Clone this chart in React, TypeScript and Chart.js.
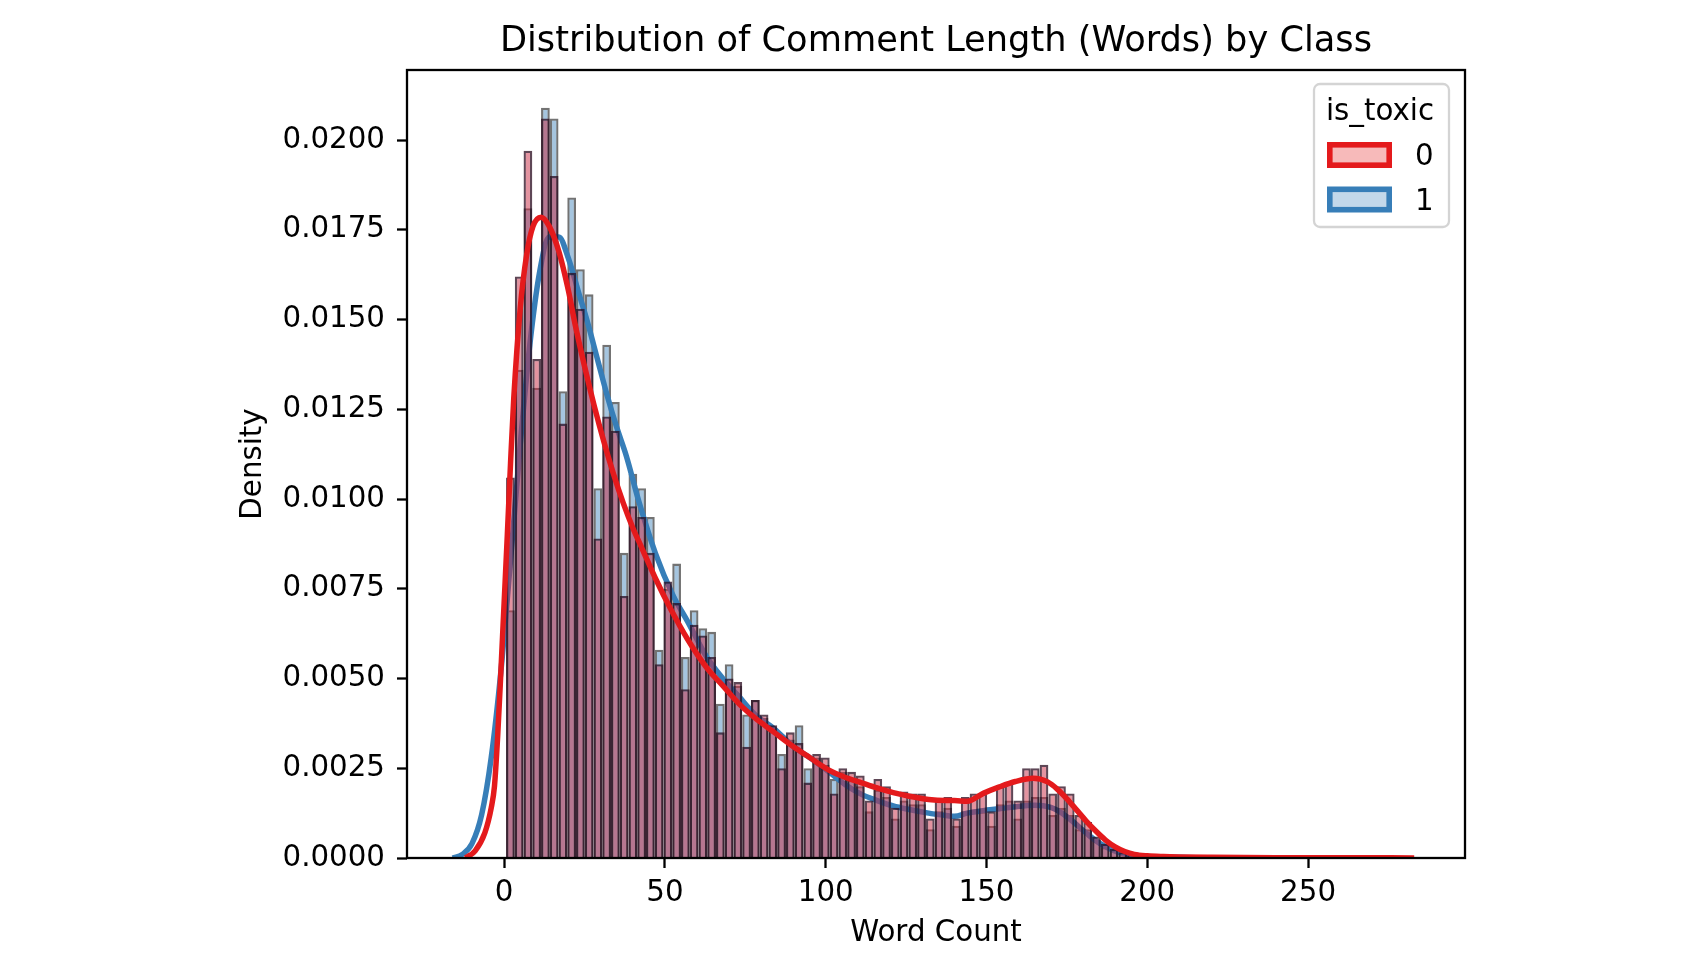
import React, { useEffect, useRef } from "react";
import { Chart, registerables } from "chart.js";

Chart.register(...registerables);

// ---------- text ----------
const chartTitle = "Distribution of Comment Length (Words) by Class";
const xAxisLabel = "Word Count";
const yAxisLabel = "Density";
const legendTitle = "is_toxic";
const classLabels = ["0", "1"];

// ---------- ticks ----------
const xTickValues = [0, 50, 100, 150, 200, 250];
const yTickValues = [0, 0.0025, 0.005, 0.0075, 0.01, 0.0125, 0.015, 0.0175, 0.02];

// ---------- histogram (bin centres, word count) ----------
const binCenters = [
  1.96, 4.68, 7.4, 10.12, 12.84, 15.56, 18.28, 21.0, 23.72, 26.44,
  29.16, 31.88, 34.6, 37.32, 40.04, 42.76, 45.48, 48.2, 50.92, 53.64,
  56.36, 59.08, 61.8, 64.52, 67.24, 69.96, 72.68, 75.4, 78.12, 80.84,
  83.56, 86.28, 89.0, 91.72, 94.44, 97.16, 99.88, 102.6, 105.32, 108.04,
  110.76, 113.48, 116.2, 118.92, 121.64, 124.36, 127.08, 129.8, 132.52, 135.24,
  137.96, 140.68, 143.4, 146.12, 148.84, 151.56, 154.28, 157.0, 159.72, 162.44,
  165.16, 167.88, 170.6, 173.32, 176.04, 178.76, 181.48, 184.2, 186.92, 189.64,
  192.36, 195.08, 197.8, 200.52, 203.24,
];

// class 0 (non-toxic) density per bin
const densityClass0 = [
  0.0106, 0.0162, 0.0197, 0.0139, 0.0206, 0.019, 0.0121, 0.0163, 0.0153, 0.0141,
  0.0089, 0.0123, 0.0119, 0.0073, 0.0098, 0.0095, 0.0085, 0.0054, 0.0077, 0.0071,
  0.0047, 0.0065, 0.0062, 0.0056, 0.0035, 0.005, 0.0049, 0.0031, 0.0044, 0.004,
  0.0037, 0.0025, 0.0035, 0.0032, 0.0021, 0.0029, 0.0028, 0.0018, 0.0025, 0.0024,
  0.0023, 0.0016, 0.0022, 0.002, 0.0014, 0.00185, 0.0018, 0.0018, 0.0011, 0.0016,
  0.0017, 0.0011, 0.0017, 0.0018, 0.0018, 0.0013, 0.002, 0.0021, 0.0016, 0.0025,
  0.0025, 0.0026, 0.0018, 0.002, 0.0018, 0.0012, 0.001, 0.0006, 0.0004, 0.00025,
  0.00016, 0.00008, 0.00005, 0.00003, 0.00002,
];

// class 1 (toxic) density per bin
const densityClass1 = [
  0.0069, 0.0136, 0.0181, 0.0131, 0.0209, 0.0206, 0.013, 0.0184, 0.0164, 0.0157,
  0.0103, 0.0143, 0.0127, 0.0085, 0.0107, 0.0103, 0.0095, 0.0058, 0.0075, 0.0082,
  0.0056, 0.0069, 0.0064, 0.0063, 0.0043, 0.0054, 0.0048, 0.004, 0.0044, 0.0039,
  0.0036, 0.0029, 0.0033, 0.0037, 0.0025, 0.0028, 0.0026, 0.0022, 0.0024, 0.0022,
  0.002, 0.0013, 0.0019, 0.0017, 0.0011, 0.0016, 0.0015, 0.0015, 0.0008, 0.0013,
  0.0014, 0.0009, 0.0013, 0.0013, 0.0013, 0.0009, 0.0015, 0.0016, 0.0011, 0.0016,
  0.0017, 0.0017, 0.0012, 0.0014, 0.0012, 0.0008, 0.0008, 0.0005, 0.0003, 0.0002,
  0.0001, 0.00006, 0.00003, 0.00002, 0.00001,
];

// ---------- KDE curves ----------
const kdeX0 = [
  -12, -9, -6, -4, -3, -2, -1, 0, 1, 2, 3, 5, 7, 9, 11.5, 14, 17, 20, 22, 25,
  28, 31, 34, 37, 40, 43, 47, 52, 57, 63, 68, 73, 78, 84, 90, 95, 101, 106, 111, 116,
  121, 126, 132, 137, 140, 144, 149, 154, 159, 164.5, 169, 172, 175, 178, 181, 184, 187, 190, 193, 196,
  200, 205, 210, 220, 240, 260, 283,
];
const kdeY0 = [
  0, 0.0002, 0.0007, 0.0014, 0.002, 0.0034, 0.0052, 0.0071, 0.009, 0.011, 0.0128, 0.0153, 0.0168, 0.0176, 0.01785, 0.0176, 0.0169, 0.0158, 0.0149, 0.0137,
  0.0126, 0.0116, 0.0107, 0.0099, 0.0092, 0.0086, 0.0078, 0.0069, 0.0061, 0.0053, 0.0048, 0.0043, 0.0039, 0.0035, 0.0031, 0.0028, 0.00245, 0.00225, 0.0021, 0.00195,
  0.00182, 0.00172, 0.00163, 0.0016, 0.0016, 0.00158, 0.0018, 0.00198, 0.00213, 0.00222, 0.00212, 0.00192, 0.00165, 0.00134, 0.00103, 0.00075, 0.0005, 0.00031, 0.00018, 0.0001,
  0.00006, 0.00004, 0.00003, 0.00002, 0.00001, 0.00001, 0,
];

const kdeX1 = [
  -16, -13, -10, -7, -4, -1, 2, 5, 8, 11, 14, 17, 20, 23, 26, 29, 32, 35, 38, 42,
  47, 52.6, 57, 63, 68, 73, 78, 84, 90, 95, 101, 106, 111, 116, 121, 126, 132, 137, 140, 144,
  149, 154, 159, 165, 170, 173, 176, 179, 182, 185, 188, 191, 195, 200, 205, 210, 220,
];
const kdeY1 = [
  0, 0.0001, 0.0004, 0.0012, 0.0028, 0.0052, 0.0083, 0.0115, 0.0143, 0.0163, 0.0173, 0.0173, 0.0167, 0.0158, 0.0149, 0.0139, 0.0129, 0.012, 0.0112, 0.0099,
  0.0085, 0.0073, 0.0066, 0.0056, 0.005, 0.0045, 0.004, 0.0036, 0.0031, 0.0028, 0.0024, 0.00205, 0.00178, 0.0016, 0.00145, 0.00135, 0.00125, 0.00119, 0.00116, 0.00125,
  0.00132, 0.00137, 0.00143, 0.00147, 0.00141, 0.00128, 0.00108, 0.00085, 0.00062, 0.00042, 0.00027, 0.00016, 0.00009, 0.00004, 0.00003, 0.00002, 0,
];

// ---------- styling ----------
const RED = "#e41a1c";
const BLUE = "#377eb8";
const RED_FILL = "rgba(200,40,65,0.5)";
const BLUE_FILL = "rgba(55,126,184,0.45)";
const RED_EDGE = "rgba(40,10,30,0.75)";
const BLUE_EDGE = "rgba(0,0,0,0.55)";
const EDGE_WIDTH = 2.3;
const LEGEND_RED_FILL = "rgba(228,26,28,0.3)";
const LEGEND_BLUE_FILL = "rgba(55,126,184,0.3)";
const FONT = '"DejaVu Sans", "Liberation Sans", sans-serif';
const TICK_SIZE = 29.3;
const TITLE_SIZE = 35.2;

const decorPlugin = {
  id: "decor",
  afterDatasetsDraw(chart: any) {
    const { ctx, chartArea } = chart;
    ctx.save();
    ctx.strokeStyle = "#000";
    ctx.lineWidth = 2.3;
    ctx.strokeRect(chartArea.left, chartArea.top, chartArea.right - chartArea.left, chartArea.bottom - chartArea.top);
    ctx.restore();
  },
  afterDraw(chart: any) {
    const { ctx, chartArea } = chart;
    const cx = (chartArea.left + chartArea.right) / 2;
    const cy = (chartArea.top + chartArea.bottom) / 2;
    ctx.save();
    ctx.fillStyle = "#000";
    // title
    ctx.font = `${TITLE_SIZE}px ${FONT}`;
    ctx.textAlign = "center";
    ctx.textBaseline = "alphabetic";
    ctx.fillText(chartTitle, cx, chartArea.top - 19);
    // x label
    ctx.font = `${TICK_SIZE}px ${FONT}`;
    ctx.fillText(xAxisLabel, cx, chartArea.bottom + 83);
    // y label
    ctx.save();
    ctx.translate(chartArea.left - 146, cy);
    ctx.rotate(-Math.PI / 2);
    ctx.fillText(yAxisLabel, 0, 0);
    ctx.restore();

    // legend
    const lw = 135;
    const lh = 143;
    const lx = chartArea.right - 16 - lw;
    const ly = chartArea.top + 14;
    ctx.beginPath();
    ctx.roundRect(lx, ly, lw, lh, 6);
    ctx.fillStyle = "rgba(255,255,255,0.8)";
    ctx.fill();
    ctx.strokeStyle = "#d4d4d4";
    ctx.lineWidth = 2.3;
    ctx.stroke();

    ctx.fillStyle = "#000";
    ctx.textAlign = "center";
    ctx.fillText(legendTitle, lx + 66, ly + 36);

    const rows = [
      { fill: LEGEND_RED_FILL, edge: RED, label: classLabels[0] },
      { fill: LEGEND_BLUE_FILL, edge: BLUE, label: classLabels[1] },
    ];
    rows.forEach((r, i) => {
      const py = ly + 58 + i * 44.5;
      const px = lx + 13;
      ctx.fillStyle = r.fill;
      ctx.fillRect(px + 2.8, py + 2.8, 65 - 5.6, 26 - 5.6);
      ctx.strokeStyle = r.edge;
      ctx.lineWidth = 5.6;
      ctx.strokeRect(px + 2.8, py + 2.8, 65 - 5.6, 26 - 5.6);
      ctx.fillStyle = "#000";
      ctx.textAlign = "left";
      ctx.fillText(r.label, lx + 101, py + 23);
    });
    ctx.restore();
  },
};

export default function App() {
  const canvasRef = useRef<HTMLCanvasElement | null>(null);

  useEffect(() => {
    const canvas = canvasRef.current;
    if (!canvas) return;

    const tickGrid = {
      display: true,
      drawOnChartArea: false,
      drawTicks: true,
      tickLength: 10,
      tickWidth: 2.3,
      tickColor: "#000",
      offset: false,
    };

    const chart = new Chart(canvas, {
      type: "bar",
      data: {
        datasets: [
          {
            type: "line",
            label: "kde 0",
            data: kdeX0.map((x, i) => ({ x, y: kdeY0[i] })),
            borderColor: RED,
            borderWidth: 5.5,
            pointRadius: 0,
            cubicInterpolationMode: "monotone",
            fill: false,
            order: 0,
          } as any,
          {
            type: "bar",
            label: classLabels[0],
            data: binCenters.map((x, i) => ({ x, y: densityClass0[i] })),
            backgroundColor: RED_FILL,
            borderColor: RED_EDGE,
            borderWidth: EDGE_WIDTH,
            borderSkipped: "start",
            barPercentage: 1,
            categoryPercentage: 1,
            grouped: false,
            inflateAmount: 0,
            order: 1,
          } as any,
          {
            type: "line",
            label: "kde 1",
            data: kdeX1.map((x, i) => ({ x, y: kdeY1[i] })),
            borderColor: BLUE,
            borderWidth: 5.5,
            pointRadius: 0,
            cubicInterpolationMode: "monotone",
            fill: false,
            order: 2,
          } as any,
          {
            type: "bar",
            label: classLabels[1],
            data: binCenters.map((x, i) => ({ x, y: densityClass1[i] })),
            backgroundColor: BLUE_FILL,
            borderColor: BLUE_EDGE,
            borderWidth: EDGE_WIDTH,
            borderSkipped: "start",
            barPercentage: 1,
            categoryPercentage: 1,
            grouped: false,
            inflateAmount: 0,
            order: 3,
          } as any,
        ],
      },
      options: {
        responsive: false,
        devicePixelRatio: 1,
        animation: false,
        layout: { padding: { left: 0, right: 235, top: 70, bottom: 0 } },
        plugins: {
          legend: { display: false },
          title: { display: false },
          tooltip: { enabled: false },
        },
        scales: {
          x: {
            type: "linear",
            min: -30.2,
            max: 298.8,
            bounds: "data",
            offset: false,
            grid: tickGrid,
            border: { display: false },
            ticks: {
              color: "#000",
              font: { family: FONT, size: TICK_SIZE },
              padding: 8,
              autoSkip: false,
              maxRotation: 0,
              minRotation: 0,
              callback: (v: any) => String(v),
            },
            afterBuildTicks: (axis: any) => {
              axis.ticks = xTickValues.map((v) => ({ value: v }));
            },
            afterFit: (axis: any) => {
              axis.height = 112;
            },
          },
          y: {
            type: "linear",
            min: 0,
            max: 0.02195,
            bounds: "data",
            grid: tickGrid,
            border: { display: false },
            ticks: {
              color: "#000",
              font: { family: FONT, size: TICK_SIZE },
              padding: 12,
              autoSkip: false,
              callback: (v: any) => Number(v).toFixed(4),
            },
            afterBuildTicks: (axis: any) => {
              axis.ticks = yTickValues.map((v) => ({ value: v }));
            },
            afterFit: (axis: any) => {
              axis.width = 407;
            },
          },
        },
      } as any,
      plugins: [decorPlugin],
    });

    return () => {
      chart.destroy();
    };
  }, []);

  return (
    <div
      style={{
        position: "fixed",
        left: 0,
        top: 0,
        width: 1700,
        height: 970,
        background: "#fff",
      }}
    >
      <canvas
        ref={canvasRef}
        width={1700}
        height={970}
        style={{ width: 1700, height: 970, display: "block" }}
      />
    </div>
  );
}
